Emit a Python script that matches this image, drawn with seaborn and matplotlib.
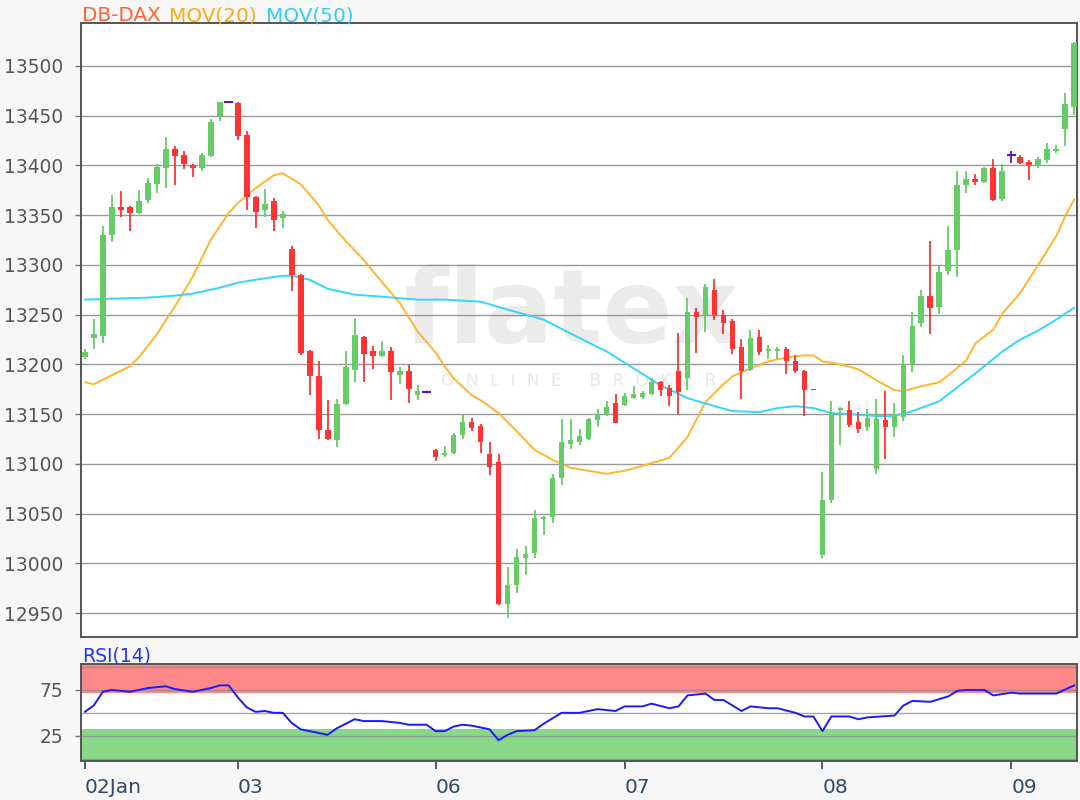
import matplotlib
matplotlib.use('Agg')
import matplotlib.pyplot as plt
import seaborn as sns
import numpy as np

# candle data (one entry per candle, left to right)
opens = [13207, 13226, 13228, 13330, 13358, 13358, 13352, 13365, 13381, 13397,
         13416, 13410, 13400, 13397, 13409, 13450, 13464, 13463, 13430, 13368,
         13355, 13364, 13347, 13316, 13290, 13213, 13188, 13134, 13124, 13160,
         13194, 13227, 13213, 13208, 13213, 13189, 13193, 13169, 13172, 13114,
         13109, 13111, 13129, 13142, 13138, 13110, 13102, 12959, 12978, 13005,
         13010, 13045, 13047, 13086, 13120, 13122, 13125, 13144, 13150, 13161,
         13159, 13166, 13167, 13170, 13182, 13176, 13193, 13186, 13253, 13250,
         13275, 13250, 13244, 13217, 13194, 13227, 13213, 13213, 13215, 13203,
         13193, 13175, 13008, 13064, 13154, 13154, 13142, 13137, 13095, 13144,
         13137, 13147, 13200, 13242, 13269, 13258, 13294, 13315, 13380, 13386,
         13383, 13397, 13366, 13410, 13408, 13403, 13399, 13405, 13414, 13436,
         13459]
highs = [13215, 13246, 13339, 13370, 13374, 13359, 13375, 13387, 13401, 13428,
         13419, 13414, 13401, 13412, 13447, 13464, 13464, 13464, 13434, 13369,
         13376, 13367, 13354, 13319, 13291, 13214, 13203, 13164, 13165, 13213,
         13247, 13228, 13218, 13223, 13217, 13197, 13199, 13179, 13172, 13115,
         13118, 13131, 13149, 13146, 13140, 13122, 13110, 12996, 13014, 13017,
         13054, 13048, 13090, 13145, 13145, 13135, 13146, 13155, 13163, 13170,
         13171, 13178, 13173, 13186, 13183, 13179, 13231, 13267, 13257, 13281,
         13286, 13255, 13246, 13225, 13235, 13235, 13219, 13217, 13217, 13209,
         13194, 13175, 13092, 13163, 13157, 13163, 13152, 13155, 13165, 13173,
         13161, 13209, 13253, 13275, 13324, 13299, 13339, 13394, 13394, 13391,
         13398, 13406, 13401, 13414, 13410, 13405, 13408, 13422, 13420, 13473,
         13524]
lows = [13205, 13215, 13221, 13323, 13348, 13334, 13351, 13362, 13372, 13377,
        13380, 13396, 13388, 13394, 13408, 13445, 13464, 13425, 13355, 13337,
        13348, 13334, 13337, 13274, 13209, 13169, 13125, 13124, 13117, 13159,
        13182, 13182, 13195, 13207, 13164, 13180, 13161, 13164, 13172, 13103,
        13107, 13110, 13125, 13133, 13111, 13089, 12958, 12945, 12970, 12988,
        13005, 13028, 13041, 13079, 13115, 13119, 13124, 13137, 13148, 13141,
        13158, 13165, 13165, 13169, 13168, 13158, 13150, 13174, 13211, 13232,
        13245, 13230, 13210, 13165, 13193, 13209, 13205, 13205, 13190, 13191,
        13148, 13174, 13005, 13061, 13119, 13137, 13131, 13133, 13090, 13105,
        13127, 13143, 13192, 13238, 13230, 13251, 13290, 13288, 13372, 13380,
        13382, 13364, 13364, 13402, 13401, 13385, 13397, 13402, 13412, 13419,
        13451]
closes = [13212, 13230, 13330, 13358, 13355, 13352, 13364, 13382, 13398, 13416,
          13409, 13401, 13397, 13410, 13444, 13464, 13464, 13429, 13368, 13353,
          13361, 13345, 13351, 13290, 13211, 13188, 13134, 13125, 13160, 13197,
          13229, 13210, 13208, 13213, 13192, 13193, 13175, 13173, 13172, 13107,
          13111, 13129, 13142, 13136, 13122, 13097, 12959, 12978, 13006, 13009,
          13046, 13047, 13086, 13122, 13124, 13128, 13145, 13150, 13157, 13141,
          13168, 13170, 13171, 13182, 13174, 13168, 13172, 13253, 13248, 13278,
          13250, 13242, 13215, 13193, 13226, 13212, 13215, 13215, 13203, 13193,
          13174, 13174, 13064, 13151, 13156, 13139, 13135, 13146, 13145, 13137,
          13148, 13200, 13239, 13269, 13257, 13293, 13315, 13380, 13386, 13383,
          13397, 13365, 13394, 13410, 13402, 13400, 13406, 13416, 13416, 13462,
          13523]

# moving averages read at selected candles
ma20_idx = [0, 1, 5, 6, 8, 10, 12, 14, 16, 17, 19, 21, 22, 24, 26, 27, 29, 31,
            33, 35, 37, 39, 40, 41, 43, 44, 46, 48, 50, 52, 54, 56, 58, 60, 62,
            65, 67, 69, 71, 72, 74, 76, 78, 80, 81, 82, 84, 86, 88, 90, 91, 93,
            95, 96, 98, 99, 101, 102, 104, 106, 108, 109, 110]
ma20_val = [13182, 13180, 13198, 13207, 13230, 13258, 13288, 13325, 13352, 13362,
            13377, 13390, 13392, 13381, 13360, 13345, 13324, 13305, 13283, 13262,
            13233, 13212, 13198, 13186, 13169, 13164, 13151, 13133, 13114, 13104,
            13096, 13093, 13090, 13093, 13098, 13106, 13127, 13162, 13180, 13188,
            13196, 13203, 13207, 13209, 13209, 13203, 13200, 13195, 13184, 13174,
            13173, 13178, 13182, 13189, 13204, 13221, 13235, 13251, 13272, 13300,
            13329, 13349, 13366]
ma50_idx = [0, 3, 7, 10, 12, 15, 17, 19, 22, 23, 25, 27, 30, 33, 37, 40, 44, 47,
            51, 54, 58, 61, 64, 67, 70, 72, 75, 77, 79, 81, 83, 85, 88, 90, 92,
            95, 97, 100, 102, 104, 106, 108, 110]
ma50_val = [13265, 13266, 13267, 13269, 13271, 13277, 13282, 13285, 13289, 13289,
            13285, 13276, 13270, 13268, 13265, 13265, 13263, 13255, 13245, 13231,
            13213, 13196, 13179, 13166, 13158, 13153, 13152, 13156, 13158, 13156,
            13151, 13150, 13148, 13148, 13153, 13163, 13177, 13198, 13213, 13225,
            13234, 13245, 13257]

# RSI(14) read at selected candles
rsi_idx = [0, 1, 2, 3, 5, 7, 9, 10, 12, 14, 15, 16, 17, 18, 19, 20, 21, 22, 23,
           24, 25, 27, 28, 30, 31, 33, 35, 36, 38, 39, 40, 41, 42, 43, 45, 46,
           47, 48, 50, 51, 53, 55, 57, 59, 60, 62, 63, 65, 66, 67, 69, 70, 71,
           73, 74, 76, 77, 79, 80, 81, 82, 83, 85, 86, 87, 90, 91, 92, 94, 96,
           97, 98, 100, 101, 103, 104, 108, 110]
rsi_val = [51, 58, 73, 75, 73, 77, 79, 76, 73, 77, 80, 80, 67, 56, 51, 52, 50, 50,
           39, 32, 30, 26, 33, 43, 41, 41, 39, 37, 37, 30, 30, 35, 37, 36, 32, 20,
           26, 30, 31, 38, 50, 50, 54, 52, 57, 57, 60, 55, 57, 69, 71, 64, 64, 52,
           57, 55, 55, 50, 46, 46, 30, 46, 46, 43, 45, 47, 58, 63, 62, 68, 74, 75,
           75, 69, 72, 71, 71, 80]

day_pos = [0, 17, 39, 60, 82, 103]
day_labels = ['02Jan', '03', '06', '07', '08', '09']
price_ticks = list(range(12950, 13501, 50))

sns.set_style('white')
plt.rcParams['font.family'] = ['DejaVu Sans']

W, H = 1080, 800
fig = plt.figure(figsize=(W / 100, H / 100), dpi=100, facecolor='#f7f7f7')


def box(l, t, r, b):
    return [l / W, 1 - b / H, (r - l) / W, (b - t) / H]


ax = fig.add_axes(box(81, 23, 1077, 637))
rx = fig.add_axes(box(81, 664, 1077, 761), sharex=ax)

# watermark
ax.text(0.492, 0.525, 'flatex', transform=ax.transAxes, ha='center', va='center',
        fontsize=74, fontweight='bold', color='#ebebeb', zorder=0.5)
ax.text(0.50, 0.417, 'O  N  L  I  N  E     B  R  O  K  E  R', transform=ax.transAxes,
        ha='center', va='center', fontsize=12.5, color='#e8e8e8', zorder=0.5)

# candles
x = np.arange(len(opens))
o = np.array(opens)
c = np.array(closes)
h = np.array(highs)
l = np.array(lows)
col = np.where(c > o, '#66cc66', np.where(c < o, '#ff3333', '#5511cc'))
ax.vlines(x, l, h, colors=col, lw=1.3, zorder=3)
ax.bar(x, np.abs(c - o), bottom=np.minimum(o, c), width=0.64, color=col,
       linewidth=0, zorder=4)
flat = c == o
ax.hlines(o[flat], x[flat] - 0.5, x[flat] + 0.5, colors='#5511cc', lw=1.5, zorder=4)

sns.lineplot(x=ma20_idx, y=ma20_val, ax=ax, color='#ffb52e', lw=1.4, zorder=2)
sns.lineplot(x=ma50_idx, y=ma50_val, ax=ax, color='#33d6ff', lw=1.4, zorder=2)

ax.set_xlim(-0.42, 110.3)
ax.set_ylim(12926, 13543)
ax.set_yticks(price_ticks)
ax.yaxis.grid(True, color='#999999', lw=1.0)
ax.set_axisbelow(True)
ax.tick_params(axis='x', bottom=False, labelbottom=False)
ax.tick_params(axis='y', left=True, length=4.3, width=1, color='#777777', pad=8.6,
               labelsize=13.4, labelcolor='#555555')

# RSI panel
rx.set_ylim(-2.6, 103.3)
rx.axhspan(72, 103.3, color='#ff8888', lw=0, zorder=0)
rx.axhspan(-2.6, 32, color='#88d888', lw=0, zorder=0)
for v in [0, 25, 50, 75, 100]:
    rx.axhline(v, color='#888888', lw=1.0, alpha=0.75, zorder=1)
sns.lineplot(x=rsi_idx, y=rsi_val, ax=rx, color='#1a1aff', lw=1.4, zorder=3)
rx.set_yticks([25, 75])
rx.set_xticks(day_pos)
rx.set_xticklabels(day_labels, ha='left')
rx.tick_params(axis='y', left=True, length=4.3, width=1, color='#777777', pad=8.6,
               labelsize=13.4, labelcolor='#555555')
rx.tick_params(axis='x', bottom=True, length=6, width=1.3, color='#3d5266', pad=6,
               labelsize=14.5, labelcolor='#2f4a66')

for a in (ax, rx):
    a.set_xlabel('')
    a.set_ylabel('')
    for s in a.spines.values():
        s.set_color('#555555')
        s.set_linewidth(1.4)

fig.text(82 / W, 1 - 21 / H, 'DB-DAX', color='#ff6633', fontsize=14.4, va='baseline')
fig.text(169 / W, 1 - 21 / H, 'MOV(20)', color='#ffaa11', fontsize=14.4, va='baseline')
fig.text(266 / W, 1 - 21 / H, 'MOV(50)', color='#33ccff', fontsize=14.4, va='baseline')
fig.text(82 / W, 1 - 661 / H, 'RSI(14)', color='#2233ff', fontsize=13.5, va='baseline')

fig.savefig('out.png', dpi=100, facecolor=fig.get_facecolor())
